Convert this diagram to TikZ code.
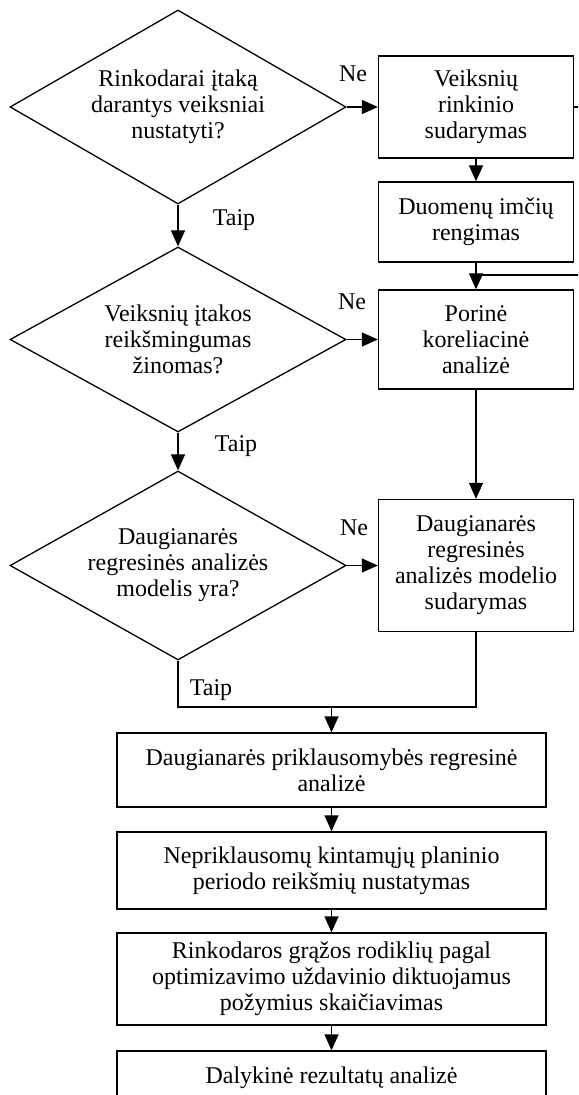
\documentclass[tikz,border=0pt]{standalone}
\usepackage{fontspec}
\setmainfont{Liberation Serif}
\usetikzlibrary{arrows.meta,shapes.geometric}

\begin{document}
\begin{tikzpicture}[x=0.5pt,y=-0.5pt,line width=0.65pt,
        txt/.style={font=\fontsize{12}{13}\selectfont,align=center},
        dec/.style={txt,draw,shape=diamond,inner sep=0pt,shape aspect=1.9,minimum width=168pt},
        blok/.style={txt,draw,rectangle,inner sep=0pt}]
        \useasboundingbox (0,0) rectangle (578,1095);
        \clip (0,0) rectangle (578,1095);

        % klausimai
        \node[dec,minimum height=97pt] (D1) at (178,107) {Rinkodarai įtaką\\darantys veiksniai\\nustatyti?};
        \node[dec,minimum height=92.5pt] (D2) at (178,339.5) {Veiksnių įtakos\\reikšmingumas\\žinomas?};
        \node[dec,minimum height=94.5pt] (D3) at (178,565.5) {Daugianarės\\regresinės analizės\\modelis yra?};

        % dešinė kolona
        \begin{scope}[every node/.style={blok,minimum width=97.5pt}]
            \node[minimum height=51pt] (B1) at (476,107) {Veiksnių\\rinkinio\\sudarymas};
            \node[minimum height=40pt] (B2) at (476,222) {Duomenų imčių\\rengimas};
            \node[minimum height=49.5pt] (B3) at (476,339.5) {Porinė\\koreliacinė\\analizė};
            \node[minimum height=66pt] (B4) at (476,565.5) {Daugianarės\\regresinės\\analizės modelio\\sudarymas};
        \end{scope}

        % apatinė dalis
        \begin{scope}[every node/.style={blok,minimum width=214.5pt}]
            \node[minimum height=37pt] (B5) at (331.5,770) {Daugianarės priklausomybės regresinė\\analizė};
            \node[minimum height=38.5pt] (B6) at (331.5,870.5) {Nepriklausomų kintamųjų planinio\\periodo reikšmių nustatymas};
            \node[minimum height=46pt] (B7) at (331.5,979) {Rinkodaros grąžos rodiklių pagal\\optimizavimo uždavinio diktuojamus\\požymius skaičiavimas};
            \node[minimum height=27pt] (B8) at (331.5,1078) {Dalykinė rezultatų analizė};
        \end{scope}

        % etiketės
        \begin{scope}[every node/.style={txt}]
            \node (N1) at (353,74) {Ne};
            \node (N2) at (352,302) {Ne};
            \node (N3) at (354,528) {Ne};
            \node (T1) at (234,220) {Taip};
            \node (T2) at (236,446) {Taip};
            \node (T3) at (211,690) {Taip};
        \end{scope}

        \coordinate (jl) at (178,707);
        \coordinate (jr) at (476,707);
        \coordinate (jn) at (331.5,707);
        \coordinate (lp) at (600,107);
        \coordinate (jt) at (476,275);

        \draw (D3.south) -- (jl) -- (jr) -- (B4.south);
        \draw (B1.east) -- (lp) |- (jt);

        \begin{scope}[>={Triangle[length=8pt,width=7pt]}]
            \path [->] (D1) edge (D2);
            \path [->] (D2) edge (D3);
            \path [->] (D1) edge (B1);
            \path [->] (D2) edge (B3);
            \path [->] (D3) edge (B4);

            \path [->] (B1) edge (B2);
            \path [->] (B2) edge (B3);
            \path [->] (B3) edge (B4);

            \path [->] (jn) edge (B5);
            \path [->] (B5) edge (B6);
            \path [->] (B6) edge (B7);
            \path [->] (B7) edge (B8);
        \end{scope}
\end{tikzpicture}
\end{document}
